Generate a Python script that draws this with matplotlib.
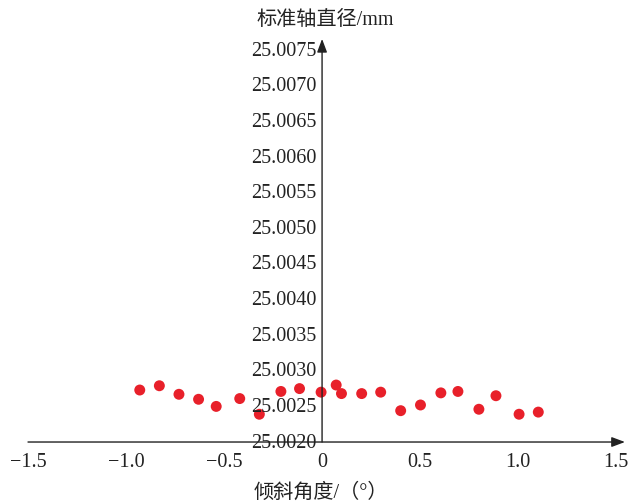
#!/usr/bin/env python
# -*- coding: utf-8 -*-
"""Standard shaft diameter vs. tilt angle."""
import matplotlib

matplotlib.use("Agg")
import matplotlib.pyplot as plt

FONTS = ["Liberation Serif", "Noto Sans CJK SC", "DejaVu Sans"]

tilt = [-0.93, -0.83, -0.73, -0.63, -0.54, -0.42, -0.32, -0.21, -0.115,
        -0.005, 0.072, 0.099, 0.202, 0.299, 0.401, 0.502, 0.606, 0.693,
        0.80, 0.887, 1.005, 1.103]
diameter = [25.00273, 25.00279, 25.00267, 25.00260, 25.00250, 25.00261,
            25.00239, 25.00271, 25.00275, 25.00270, 25.00280, 25.00268,
            25.00268, 25.00270, 25.00244, 25.00252, 25.00269, 25.00271,
            25.00246, 25.00265, 25.00239, 25.00242]
x_ticks = [-1.5, -1.0, -0.5, 0, 0.5, 1.0, 1.5]
x_tick_labels = ["\u22121.5", "\u22121.0", "\u22120.5", "0", "0.5", "1.0", "1.5"]
y_ticks = [25.0020 + 0.0005 * i for i in range(12)]
y_tick_labels = ["%.4f" % v for v in y_ticks]


def main():
    """Run main."""
    plt.rcParams["font.family"] = FONTS
    fig = plt.figure(figsize=(6.31, 5.02), dpi=100)
    ax = fig.add_axes([0.0444, 0.1175, 0.946, 0.803])
    x_lo, x_hi = -1.5, 1.545
    y_lo, y_hi = 25.0020, 25.00766
    ax.set_xlim(x_lo, x_hi)
    ax.set_ylim(y_lo, y_hi)

    ax.scatter(tilt, diameter, s=62, color="#e8202a", edgecolors="none",
               zorder=3, clip_on=False)

    for side in ["top", "right", "left", "bottom"]:
        ax.spines[side].set_visible(False)

    # axes with arrow heads
    arrow = dict(arrowstyle="-|>,head_length=0.8,head_width=0.3",
                 lw=1.0, color="#222222", mutation_scale=10,
                 shrinkA=0, shrinkB=0)
    ax.annotate("", xy=(x_hi, y_lo), xytext=(x_lo, y_lo),
                arrowprops=arrow, annotation_clip=False)
    ax.annotate("", xy=(0, y_hi), xytext=(0, y_lo),
                arrowprops=arrow, annotation_clip=False)

    ax.set_xticks(x_ticks)
    ax.set_xticklabels(x_tick_labels)
    ax.set_yticks([])
    for v, lab in zip(y_ticks, y_tick_labels):
        ax.text(-0.03, v, lab, ha="right", va="center", fontsize=14.5,
                color="#222222", family=FONTS)
    ax.tick_params(axis="x", length=0, pad=7, labelsize=14.5,
                   labelcolor="#222222")

    fig.text(0.516, 0.960, "标准轴直径/mm", ha="center", va="center",
             fontsize=14.5, color="#222222", family=FONTS)
    fig.text(0.508, 0.017, "倾斜角度/（°）", ha="center", va="center",
             fontsize=14.5, color="#222222", family=FONTS)

    fig.savefig("out.png", dpi=100)


if __name__ == "__main__":
    main()
